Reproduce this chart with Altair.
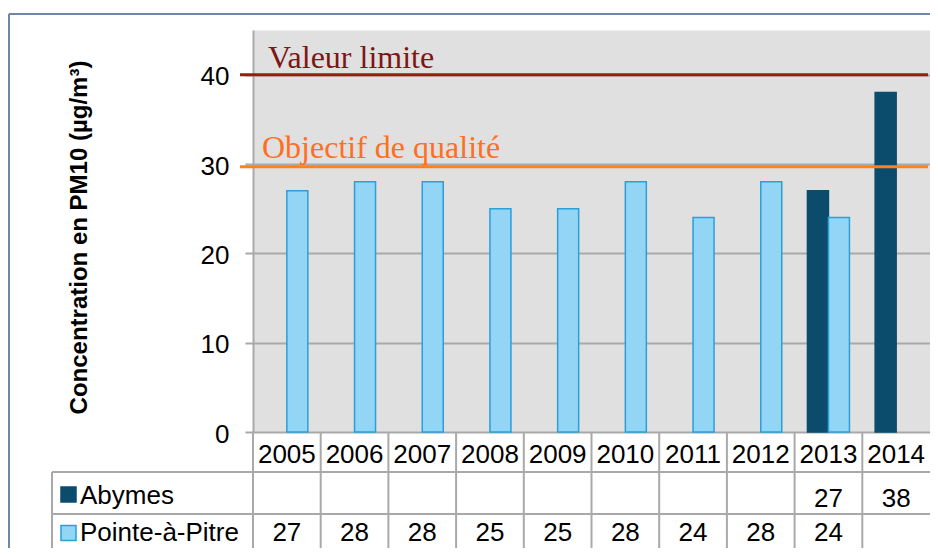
import altair as alt
import pandas as pd

# ---- data ----
years = ["2005", "2006", "2007", "2008", "2009", "2010", "2011", "2012", "2013", "2014"]
stations = ["Abymes", "Pointe-à-Pitre"]
abymes = [None, None, None, None, None, None, None, None, 27, 38]
pointe_a_pitre = [27, 28, 28, 25, 25, 28, 24, 28, 24, None]
ref_names = ["Valeur limite", "Objectif de qualité"]
ref_values = [40, 29.7]
y_ticks = [0, 10, 20, 30, 40]
y_title = "Concentration en PM10 (µg/m³)"

# ---- styles ----
fill_colors = ["#0b4c6d", "#93d5f4"]
stroke_colors = ["#0b4c6d", "#2a9fd9"]
ref_line_colors = ["#9b1b0f", "#ff8119"]
ref_text_colors = ["#7e1616", "#ff6f22"]
ref_text_x = [15, 9]
ref_text_dy = [-7, -9]
grid_col = "#a9a9a9"
frame_col = "#6f87a7"
SANS = "Liberation Sans"
SERIF = "Liberation Serif"

W, H = 677, 402
row_top_y = [442, 484]
row_text_y = [477, 511]
legend_label_y = [474, 511]
legend_square_y = [464.5, 503]

rows = []
for st, vals in zip(stations, [abymes, pointe_a_pitre]):
    for yr, v in zip(years, vals):
        rows.append({"year": yr, "station": st, "value": v,
                     "label": "" if v is None else str(int(v))})
df = pd.DataFrame(rows)
bars_df = df.dropna(subset=["value"])
year_df = pd.DataFrame({"year": years})
ref_df = pd.DataFrame({"name": ref_names, "value": ref_values})
one = pd.DataFrame({"k": [0]})

x_scale = alt.Scale(domain=years, paddingInner=0, paddingOuter=0)
x_enc = alt.X("year:N", scale=x_scale, axis=None)
y_axis = alt.Axis(values=y_ticks, grid=True, gridColor=grid_col, gridWidth=2,
                  tickColor=grid_col, tickWidth=2, tickSize=8,
                  domainColor=grid_col, domainWidth=2,
                  labelFont=SANS, labelFontSize=26, labelColor="#000000",
                  labelPadding=16, labelOffset=2,
                  titleFont=SANS, titleFontSize=24, titleFontWeight="bold",
                  titleColor="#000000", titleAngle=270, titleAlign="center",
                  titleBaseline="middle", titleX=-174, titleY=207)
y_enc = alt.Y("value:Q", scale=alt.Scale(domain=[0, 45], nice=False), axis=y_axis, title=y_title)

bars = alt.Chart(bars_df).mark_bar(strokeWidth=1.5).encode(
    x=x_enc,
    xOffset=alt.XOffset("station:N", scale=alt.Scale(domain=stations, paddingOuter=0.612, paddingInner=0)),
    y=y_enc,
    color=alt.Color("station:N", scale=alt.Scale(domain=stations, range=fill_colors), legend=None),
    stroke=alt.Stroke("station:N", scale=alt.Scale(domain=stations, range=stroke_colors), legend=None),
)

layers = [bars]

for i, nm in enumerate(ref_names):
    sub = alt.Chart(ref_df).transform_filter(alt.datum.name == nm)
    layers.append(
        sub.mark_rule(strokeWidth=3, color=ref_line_colors[i]).encode(
            y=y_enc, x=alt.value(-13), x2=alt.value(675))
    )
    layers.append(
        sub.mark_text(align="left", baseline="alphabetic", font=SERIF, fontSize=32,
                      color=ref_text_colors[i], dy=ref_text_dy[i]).encode(
            y=y_enc, x=alt.value(ref_text_x[i]), text="name:N")
    )

# ---- data table under the plot ----
layers.append(
    alt.Chart(year_df).mark_rule(color=grid_col, strokeWidth=2).encode(
        x=alt.X("year:N", bandPosition=0, scale=x_scale, axis=None),
        y=alt.value(H), y2=alt.value(560))
)
layers.append(
    alt.Chart(one).mark_rule(color=grid_col, strokeWidth=2).encode(
        x=alt.value(-201), y=alt.value(row_top_y[0]), y2=alt.value(560))
)
layers.append(
    alt.Chart(year_df).mark_text(font=SANS, fontSize=26, baseline="alphabetic", color="#000000").encode(
        x=x_enc, y=alt.value(433), text="year:N")
)
for i, st in enumerate(stations):
    layers.append(
        alt.Chart(one).mark_rule(color=grid_col, strokeWidth=2).encode(
            x=alt.value(-201), x2=alt.value(W), y=alt.value(row_top_y[i]))
    )
    layers.append(
        alt.Chart(df).transform_filter(alt.datum.station == st).mark_text(
            font=SANS, fontSize=26, baseline="alphabetic", color="#000000").encode(
            x=x_enc, y=alt.value(row_text_y[i]), text="label:N")
    )
    layers.append(
        alt.Chart(one).mark_square(size=225, filled=True, fill=fill_colors[i],
                                    stroke=stroke_colors[i], strokeWidth=1.5, opacity=1).encode(
            x=alt.value(-184.5), y=alt.value(legend_square_y[i]))
    )
    layers.append(
        alt.Chart(one).mark_text(font=SANS, fontSize=26, align="left", baseline="alphabetic",
                                 color="#000000", text=st).encode(
            x=alt.value(-173), y=alt.value(legend_label_y[i]))
    )

# ---- outer frame ----
layers.append(
    alt.Chart(one).mark_rule(color=frame_col, strokeWidth=2).encode(
        x=alt.value(-244), x2=alt.value(W + 20), y=alt.value(-16))
)
layers.append(
    alt.Chart(one).mark_rule(color=frame_col, strokeWidth=2).encode(
        x=alt.value(-244), y=alt.value(-16), y2=alt.value(560))
)

chart = alt.layer(*layers).properties(
    width=W, height=H,
    autosize=alt.AutoSizeParams(type="none"),
    padding={"left": 245, "top": 22, "right": 0, "bottom": 116},
    background="#ffffff",
).configure_view(fill="#e0e0e0", stroke="transparent")

chart.save("out.html", embed_options={"renderer": "svg", "actions": False})
